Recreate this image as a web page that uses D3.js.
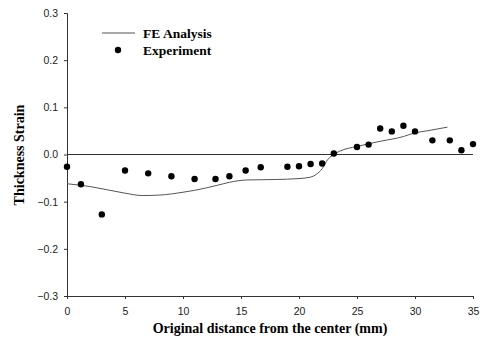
<!DOCTYPE html>
<html>
<head>
<meta charset="utf-8">
<script src="https://cdn.jsdelivr.net/npm/d3@7"></script>
<style>
  body { margin: 0; background: #fff; }
  svg { display: block; }
</style>
</head>
<body>
<div id="main"></div>
<script>
// Experiment points (distance mm, thickness strain)
const expX = [0, 1.2, 3, 5, 7, 9, 11, 12.8, 14, 15.4, 16.7, 19, 20, 21, 22, 23, 25, 26, 27, 28, 29, 30, 31.5, 33, 34, 35];
const expY = [-0.026, -0.063, -0.127, -0.034, -0.04, -0.046, -0.052, -0.052, -0.046, -0.034, -0.027,
  -0.026, -0.025, -0.02, -0.019, 0.002, 0.016, 0.021, 0.055, 0.049, 0.061, 0.049, 0.03, 0.03, 0.009, 0.022];

// FE analysis curve
const feX = [0, 2, 5, 6.5, 8, 10, 11, 13, 14, 15.5, 18, 20, 21, 21.5, 22, 22.5, 23, 23.5, 25, 27, 29, 30, 31, 32.8];
const feY = [-0.062, -0.068, -0.082, -0.087, -0.086, -0.08, -0.076, -0.065, -0.059, -0.054, -0.053, -0.051,
  -0.048, -0.042, -0.03, -0.01, 0, 0.007, 0.017, 0.028, 0.038, 0.046, 0.05, 0.058];

const xTicks = [0, 5, 10, 15, 20, 25, 30, 35];
const yTicks = [-0.3, -0.2, -0.1, 0.0, 0.1, 0.2, 0.3];

const w = 483;
const h = 349;

const svg = d3.select('div#main')
  .append('svg')
  .attr('width', w)
  .attr('height', h);

const x = d3.scaleLinear().domain([0, 35]).range([67, 473]);
const y = d3.scaleLinear().domain([-0.3, 0.3]).range([296, 13]);

const tickFont = '"Liberation Sans", Arial, sans-serif';
const titleFont = '"Liberation Serif", "Times New Roman", serif';

// y axis
const yAxis = svg.append('g')
  .attr('transform', 'translate(' + x(0) + ',0)')
  .call(d3.axisLeft(y).tickValues(yTicks).tickFormat(d3.format('.1f')).tickSize(3).tickPadding(6));

// x axis
const xAxis = svg.append('g')
  .attr('transform', 'translate(0,' + y(-0.3) + ')')
  .call(d3.axisBottom(x).tickValues(xTicks).tickFormat(d3.format('d')).tickSize(3).tickPadding(9).tickSizeOuter(0));

svg.selectAll('.domain, .tick line').attr('stroke', '#333').attr('stroke-width', 1);
svg.selectAll('.tick text')
  .attr('fill', '#222')
  .style('font-family', tickFont)
  .style('font-size', '10.5px');

// zero line
svg.append('line')
  .attr('x1', x(0))
  .attr('x2', x(35))
  .attr('y1', y(0))
  .attr('y2', y(0))
  .attr('stroke', '#333')
  .attr('stroke-width', 1);

// FE curve
const line = d3.line()
  .x(function (d, i) { return x(feX[i]); })
  .y(function (d) { return y(d); })
  .curve(d3.curveMonotoneX);

svg.append('path')
  .datum(feY)
  .attr('d', line)
  .attr('fill', 'none')
  .attr('stroke', '#555')
  .attr('stroke-width', 1);

// experiment points
svg.append('g')
  .selectAll('circle')
  .data(expY)
  .join('circle')
  .attr('cx', function (d, i) { return x(expX[i]); })
  .attr('cy', function (d) { return y(d); })
  .attr('r', 3.2)
  .attr('fill', '#000');

// legend
svg.append('line')
  .attr('x1', 102).attr('x2', 135)
  .attr('y1', 33).attr('y2', 33)
  .attr('stroke', '#555')
  .attr('stroke-width', 1);
svg.append('circle')
  .attr('cx', 118).attr('cy', 50)
  .attr('r', 3.2)
  .attr('fill', '#000');

svg.selectAll('.legtext')
  .data(['FE Analysis', 'Experiment'])
  .join('text')
  .attr('class', 'legtext')
  .attr('x', 143)
  .attr('y', function (d, i) { return 37.5 + i * 17; })
  .text(function (d) { return d; })
  .style('font-family', titleFont)
  .style('font-weight', 'bold')
  .style('font-size', '13.5px');

// axis titles
svg.append('text')
  .attr('x', 270)
  .attr('y', 333)
  .attr('text-anchor', 'middle')
  .text('Original distance from the center (mm)')
  .style('font-family', titleFont)
  .style('font-weight', 'bold')
  .style('font-size', '14px');

svg.append('text')
  .attr('transform', 'translate(24,155) rotate(-90)')
  .attr('text-anchor', 'middle')
  .text('Thickness Strain')
  .style('font-family', titleFont)
  .style('font-weight', 'bold')
  .style('font-size', '14px');
</script>
</body>
</html>
